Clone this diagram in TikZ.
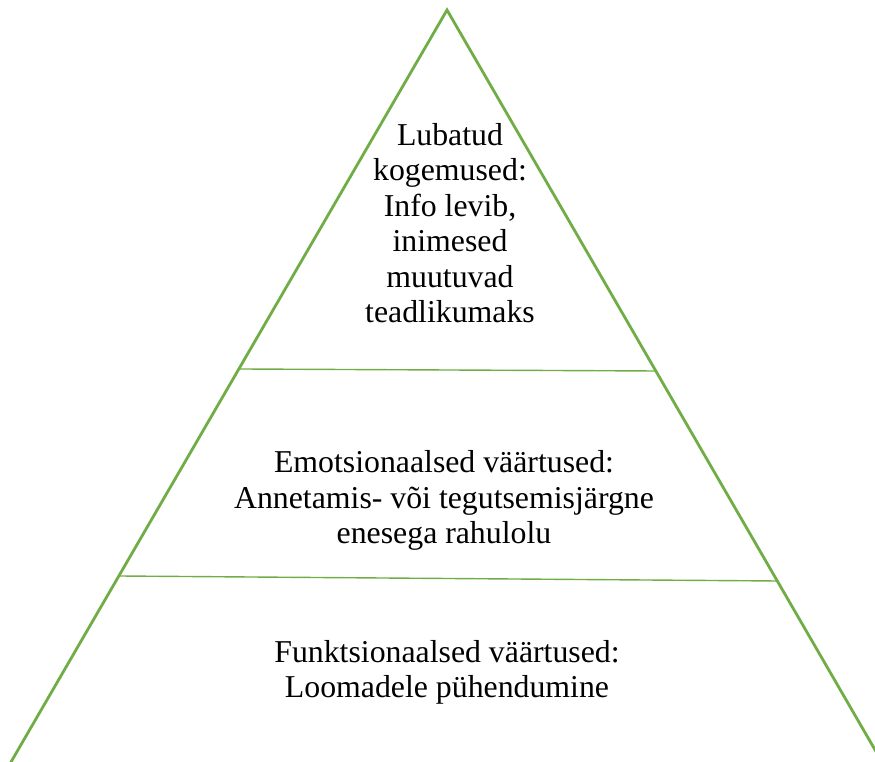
\documentclass[tikz,border=0pt]{standalone}
\usepackage{fontspec}
\setmainfont{Liberation Serif}
\definecolor{pyrgreen}{HTML}{70AD47}
\begin{document}
\begin{tikzpicture}[x=1pt,y=1pt,
  side/.style={draw=pyrgreen,line width=2.8pt,line join=miter},
  divider/.style={draw=pyrgreen,line width=1.4pt},
  label/.style={align=center,inner sep=0pt,font=\fontsize{31.8}{35.5}\selectfont}]
\useasboundingbox (0,0) rectangle (875,762);
\clip (0,0) rectangle (875,762);
% triangle corners (base lies below the visible area)
\coordinate (apex) at (447,752);
\coordinate (bl) at (-0.6,-20);
\coordinate (br) at (893.6,-20);
\draw[side] (apex) -- (bl) -- (br) -- cycle;
% dividers
\coordinate (d1l) at (240,393);
\coordinate (d1r) at (655,391);
\coordinate (d2l) at (119,186);
\coordinate (d2r) at (777,181);
\draw[divider] (d1l) -- (d1r);
\draw[divider] (d2l) -- (d2r);
% labels
\node[label] (top) at (450,539) {Lubatud\\kogemused:\\Info levib,\\inimesed\\muutuvad\\teadlikumaks};
\node[label] (mid) at (444,261.5) {Emotsionaalsed väärtused:\\Annetamis- või tegutsemisjärgne\\enesega rahulolu};
\node[label] (bot) at (447,89.5) {Funktsionaalsed väärtused:\\Loomadele pühendumine};
\end{tikzpicture}
\end{document}
